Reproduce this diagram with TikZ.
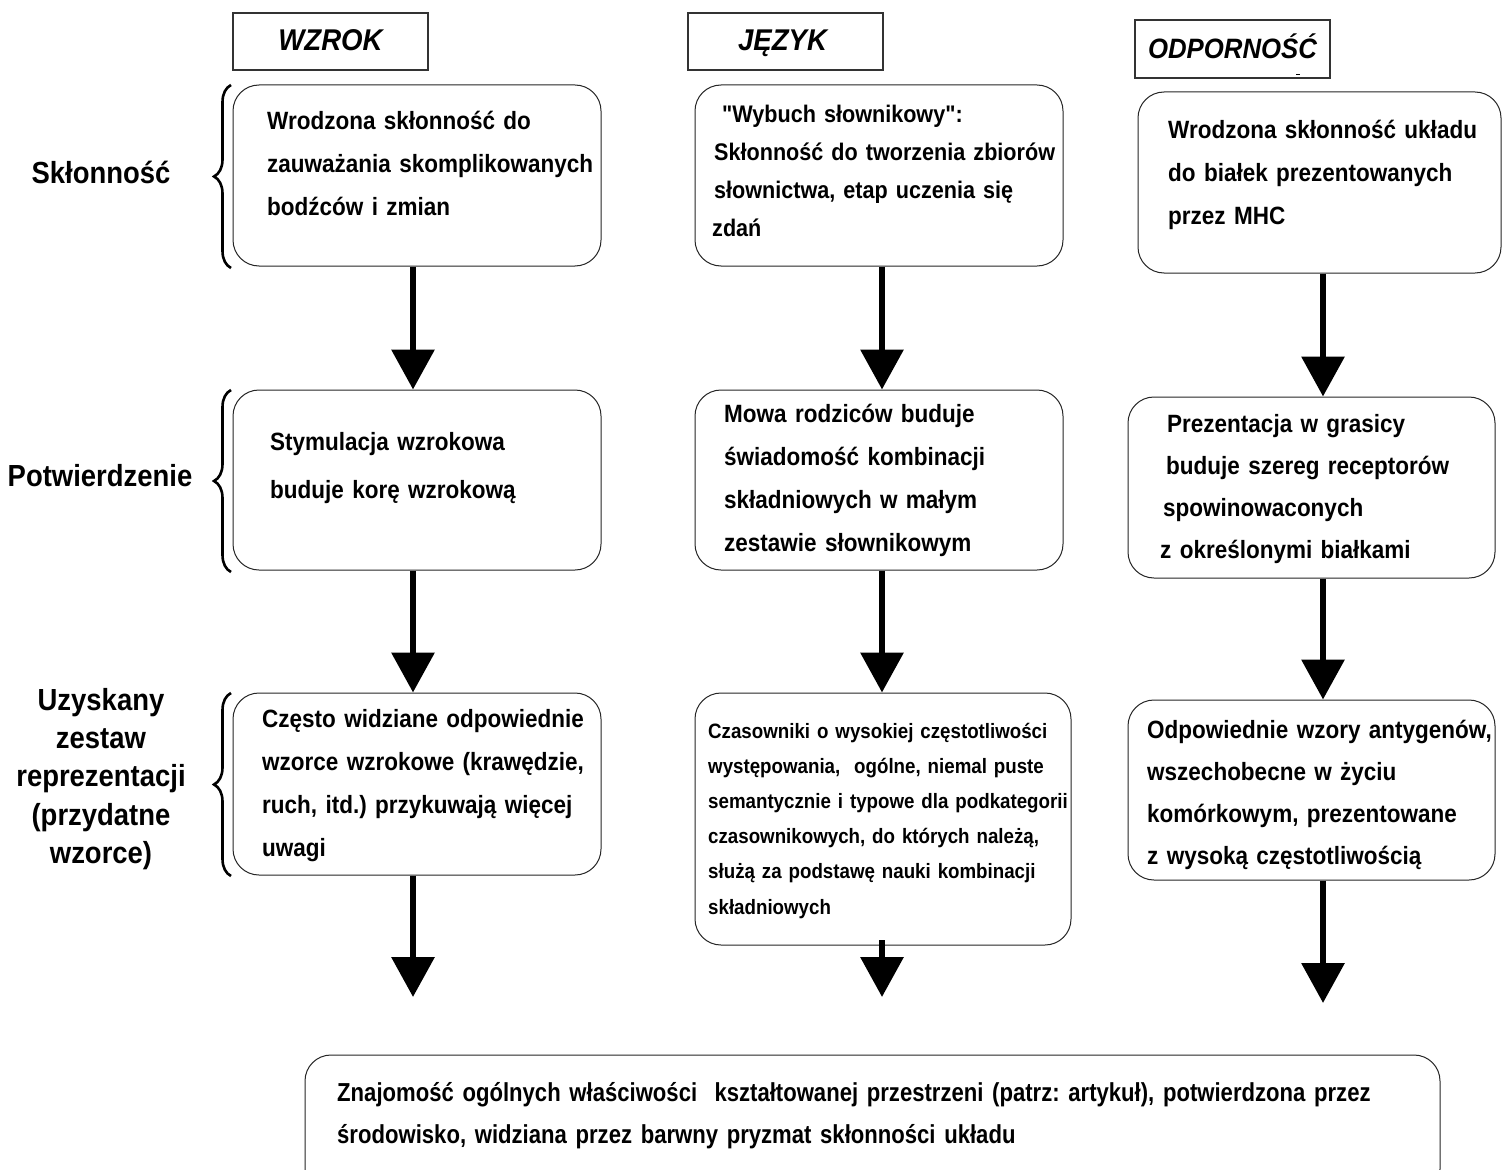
\documentclass[tikz,border=0pt]{standalone}
\usepackage{fontspec}
\setmainfont{Liberation Sans}
\newfontfamily\mainf{Liberation Sans}[FakeStretch=0.9]
\newfontfamily\headf{Liberation Sans}[FakeStretch=0.92]
\newfontfamily\condfont{Liberation Sans}[FakeStretch=0.85]
\usetikzlibrary{arrows.meta,decorations.pathreplacing}
\frenchspacing
\tikzset{
  hbox/.style={draw=black!80, line width=1.3pt, minimum width=195pt, minimum height=57pt, inner sep=0pt, text height=22pt, text depth=3pt, font=\headf\fontsize{30}{32}\selectfont\bfseries\itshape},
  rbox/.style={draw=black!85, line width=1pt, rounded corners=26pt, inner sep=0pt, fill=white},
  txt/.style={anchor=base west, inner sep=0pt, text width=440pt, align=left, font=\frenchspacing\mainf\bfseries\fontsize{25}{43}\selectfont},
  lbl/.style={font=\mainf\bfseries\fontsize{30.5}{38.3}\selectfont, align=center, inner sep=0pt},
  flow/.style={line width=6.5pt, -{Triangle[width=42pt,length=40pt]}},
  brc/.style={decorate, decoration={brace, amplitude=17pt}, line width=2.6pt}
}
\begin{document}
\begin{tikzpicture}[x=1pt,y=-1pt]
\clip (0,0) rectangle (1503,1169);
\fill[white] (0,0) rectangle (1503,1169);
% column axes
\coordinate (ax) at (413,0);
\coordinate (bx) at (882,0);
\coordinate (cx) at (1323,0);
% headers
\node[hbox] (hA) at (330.5,41.5) {WZROK};
\node[hbox] (hB) at (785.5,41.5) {\hspace*{-6pt}JĘZYK};
\node[hbox, minimum height=58pt, font=\headf\fontsize{28}{30}\selectfont\bfseries\itshape] (hC) at (1232.5,49) {ODPORNOŚĆ};
\draw[line width=1pt] (1296,74.5) -- (1300,74.5);
% boxes
\node[rbox, minimum width=368pt, minimum height=181pt] (A1) at (417,175.5) {};
\node[rbox, minimum width=368pt, minimum height=181pt] (B1) at (879,175.5) {};
\node[rbox, minimum width=363pt, minimum height=181pt] (C1) at (1319.5,182.5) {};
\node[rbox, minimum width=368pt, minimum height=180pt] (A2) at (417,480) {};
\node[rbox, minimum width=368pt, minimum height=180pt] (B2) at (879,480) {};
\node[rbox, minimum width=367pt, minimum height=181pt] (C2) at (1311.5,487.5) {};
\node[rbox, minimum width=368pt, minimum height=182pt] (A3) at (417,784) {};
\node[rbox, minimum width=376pt, minimum height=252pt] (B3) at (883,819) {};
\node[rbox, minimum width=367pt, minimum height=180pt] (C3) at (1311.5,790) {};
\node[rbox, minimum width=1135pt, minimum height=140pt] (D) at (872.5,1125) {};
% texts
\node[txt] (tA1) at (267,130) {Wrodzona skłonność do\\zauważania skomplikowanych\\bodźców i zmian};
\node[txt, font=\frenchspacing\mainf\bfseries\fontsize{25}{48}\selectfont] (tA2) at (270,450) {Stymulacja wzrokowa\\buduje korę wzrokową};
\node[txt] (tA3) at (262,727) {Często widziane odpowiednie\\wzorce wzrokowe (krawędzie,\\ruch, itd.) przykuwają więcej\\uwagi};
\node[txt, font=\frenchspacing\mainf\bfseries\fontsize{24}{38}\selectfont] (tB1) at (714,123) {\hspace*{8pt}"Wybuch słownikowy":\\Skłonność do tworzenia zbiorów\\słownictwa, etap uczenia się\\\hspace*{-2pt}zdań};
\node[txt] (tB2) at (724,422) {Mowa rodziców buduje\\świadomość kombinacji\\składniowych w małym\\zestawie słownikowym};
\node[txt, font=\frenchspacing\mainf\bfseries\fontsize{20.8}{35.2}\selectfont] (tB3) at (708,738) {Czasowniki o wysokiej częstotliwości\\występowania,\ \ ogólne, niemal puste\\semantycznie i typowe dla podkategorii\\czasownikowych, do których należą,\\służą za podstawę nauki kombinacji\\składniowych};
\node[txt] (tC1) at (1168,139) {Wrodzona skłonność układu\\do białek prezentowanych\\przez MHC};
\node[txt, font=\frenchspacing\mainf\bfseries\fontsize{25}{42.3}\selectfont] (tC2) at (1160,432) {\hspace*{7pt}Prezentacja w grasicy\\\hspace*{6pt}buduje szereg receptorów\\\hspace*{3pt}spowinowaconych\\z określonymi białkami};
\node[txt, font=\frenchspacing\mainf\bfseries\fontsize{25}{42}\selectfont] (tC3) at (1147,738) {Odpowiednie wzory antygenów,\\wszechobecne w życiu\\komórkowym, prezentowane\\z wysoką częstotliwością};
\node[txt, text width=1100pt, font=\frenchspacing\condfont\bfseries\fontsize{26}{42}\selectfont] (tD) at (337,1101) {Znajomość ogólnych właściwości\ \ kształtowanej przestrzeni (patrz: artykuł), potwierdzona przez\\środowisko, widziana przez barwny pryzmat skłonności układu};
% left labels
\node[lbl] (L1) at (101,172) {Skłonność};
\node[lbl] (L2) at (100,476) {Potwierdzenie};
\node[lbl] (L3) at (101,779) {Uzyskany\\zestaw\\reprezentacji\\(przydatne\\wzorce)};
% braces
\draw[brc] (231,268) -- (231,85);
\draw[brc] (231,572) -- (231,390);
\draw[brc] (231,876) -- (231,693);
% arrows
\coordinate (endA) at (413,997);
\coordinate (b3s) at (882,940);
\coordinate (endB) at (882,997);
\coordinate (endC) at (1323,1003);
\draw[flow] (A1.south -| ax) -- (A2.north -| ax);
\draw[flow] (A2.south -| ax) -- (A3.north -| ax);
\draw[flow] (A3.south -| ax) -- (endA);
\draw[flow] (B1.south -| bx) -- (B2.north -| bx);
\draw[flow] (B2.south -| bx) -- (B3.north -| bx);
\draw[flow] (b3s) -- (endB);
\draw[flow] (C1.south -| cx) -- (C2.north -| cx);
\draw[flow] (C2.south -| cx) -- (C3.north -| cx);
\draw[flow] (C3.south -| cx) -- (endC);
\end{tikzpicture}
\end{document}
